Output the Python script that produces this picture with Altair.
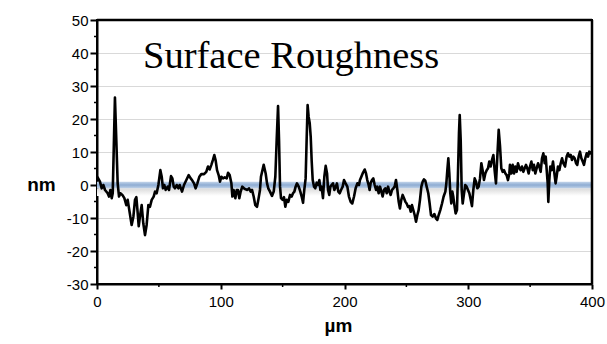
import altair as alt
import pandas as pd

# ---- data ----
x_um = [0, 0.5, 2.4, 3.8, 5.1, 6.5, 8.6, 9.7, 10.8, 11.9, 12.7, 13.7, 14.5, 15.6, 16.7, 17.8, 18.9, 20.5,
        22.1, 23.7, 24.8, 26.1, 28.0, 29.4, 30.7, 31.8, 32.9, 33.7, 34.7, 36.1, 37.4, 38.8, 40.1, 41.5, 42.8,
        44.2, 45.8, 46.9, 48.2, 49.6, 51.2, 52.3, 53.3, 54.4, 55.5, 57.1, 58.2, 59.8, 60.9, 62.0, 63.0, 64.4, 65.7,
        66.8, 68.7, 70.3, 72.2, 74.1, 75.7, 76.8, 78.4, 79.7, 81.1, 82.7, 84.3, 86.5, 88.3, 89.7, 91.0, 92.4,
        93.7, 94.8, 95.9, 97.0, 98.3, 99.4, 100.5, 101.8, 103.2, 104.8, 105.9, 107.2, 108.6, 109.4, 110.4,
        111.8, 112.9, 113.9, 115.0, 116.1, 117.4, 118.8, 120.1, 121.5, 122.8, 124.2, 125.3, 126.6, 127.9,
        129.3, 130.6, 131.7, 132.5,
        134.7, 136.3, 137.4, 138.4, 139.8, 141.4, 142.8, 144.1, 145.2, 146.3, 147.1, 147.9, 148.7, 150.0,
        151.1, 152.2, 153.3, 154.6, 156.0, 157.3, 158.4, 159.5, 160.5, 161.6, 163.0, 164.3, 165.4, 166.5,
        167.5, 168.6, 169.4, 170.2, 171.0, 171.9, 172.7, 173.5, 174.3, 175.4, 176.4, 177.5, 178.6, 179.7,
        180.5, 181.5, 182.6, 183.7, 184.8, 185.9, 186.7, 187.7, 188.6, 189.6, 190.7, 191.8, 192.9, 193.9,
        195.0, 196.1, 197.2, 198.5,
        199.6, 200.9, 202.3, 203.6, 205.0, 206.3, 207.7, 209.0, 210.4, 211.7, 212.5, 213.6, 214.9, 216.3,
        217.4, 218.4, 219.5, 220.3, 221.1, 222.2, 223.3, 224.4, 225.5, 226.5, 227.6, 228.7, 229.8, 230.8,
        231.9, 233.0, 234.1, 235.2, 236.2, 237.3, 238.4, 239.5, 240.5, 241.6, 242.7, 243.8, 244.8, 245.9,
        247.0, 248.1, 249.2, 250.2, 251.3, 252.4, 253.5, 254.5, 255.6, 256.7, 257.8, 258.9, 259.9, 261.0,
        262.1, 263.2, 264.2, 265.3, 266.4,
        267.7, 268.8, 269.9, 271.2, 272.6, 273.9, 275.0, 276.1, 277.4, 278.8, 280.1, 281.5, 282.3, 283.1,
        283.9, 284.7, 285.5, 286.3, 287.1, 287.9, 288.8, 289.8, 290.9, 291.7, 292.5, 293.1, 293.9, 294.7,
        295.5, 296.6, 297.6, 298.7, 299.8, 300.9, 302.0, 303.0, 304.1, 305.2, 306.3, 307.3, 308.4, 309.5,
        310.6, 311.6, 312.7, 313.8, 314.9, 316.0, 317.0, 318.1, 319.2, 320.3, 321.3, 322.4, 323.5, 324.6,
        325.7, 326.7, 327.8, 328.9, 330.0, 331.0, 332.1, 333.2,
        333.7, 334.8, 335.9, 337.0, 338.0, 339.1, 340.2, 341.3, 342.4, 343.4, 344.5, 345.6, 346.7, 347.7,
        348.8, 349.9, 351.0, 352.1, 353.1, 354.2, 355.3, 356.4, 357.4, 358.5, 359.6, 360.7, 361.8, 362.6,
        363.4, 364.2, 364.7, 365.5, 366.3, 367.4, 368.5, 369.6, 370.6, 371.4, 372.5, 373.6, 374.7, 375.8,
        376.8, 378.2, 379.5, 380.6, 381.7, 382.8, 383.8, 384.9, 386.0, 387.1, 388.1, 389.2, 390.3, 391.4,
        392.5, 393.5, 394.6, 395.7, 396.8, 397.8, 398.9, 400.0]

z_nm = [2.0, 2.3, 1.0, -1.0, 0.0, -1.5, -2.5, -3.5, -1.5, -4.0, -2.5, 13.6, 26.5, 13.6, 0.5, -3.5, -2.5, -3.0,
        -4.0, -6.1, -4.5, -7.6, -12.1, -9.6, -4.5, -3.7, -8.6, -12.5, -9.6, -6.1, -11.6, -15.2, -12.1, -6.1, -6.6,
        -4.5, -3.5, -2.0, -2.5, 0.0, 4.5, 2.5, -1.0, 0.0, -1.5, -0.5, -1.5, 2.7, 2.0, -0.5, -1.0, 0.0, -1.0,
        0.0, -2.0, 0.0, 1.5, 3.0, 2.0, 1.5, 0.5, -1.0, 0.5, 2.5, 3.3, 3.3, 4.0, 5.6, 4.7, 6.1,
        7.6, 9.1, 7.4, 4.5, 3.0, 1.0, 2.5, 2.0, 2.3, 2.0, 3.7, 3.0, 0.5, -3.5, -1.5,
        -4.0, -1.5, -1.5, -4.0, -2.0, -0.5, -1.0, -1.3, -1.5, -1.0, -2.0, -1.5, -3.5, -6.1,
        -6.6, -4.0, -1.5, 2.5,
        6.1, 3.5, 0.5, -1.0, -2.0, -3.3, -2.0, 2.5, 13.6, 23.9, 13.6, -0.5, -4.0, -4.5,
        -3.7, -6.6, -4.5, -5.1, -3.0, -3.5, -2.5, -2.0, -0.5, 0.5, -0.5, -2.0, -3.5, -5.4,
        -1.5, 2.0, 13.6, 24.2, 20.7, 18.7, 14.6, 7.1, 1.5, -0.5, -1.0, 0.7, 0.0, 1.5,
        -1.5, -0.5, -4.0, 2.5, 5.8, 3.5, -1.5, -3.0, -0.5, 0.0, 0.5, -1.5, -0.5, 0.5,
        -2.0, -2.5, -1.5, -0.5,
        1.5, 0.5, -0.5, -3.5, -5.1, -5.6, -3.5, -1.0, 0.5, 0.0, 1.5, 2.5, 3.7, 4.7,
        3.5, 1.5, 0.0, -1.5, 0.5, 1.5, 2.0, 0.0, -1.5, -0.5, -2.5, -0.5, -2.0, -3.5,
        -1.5, -1.0, -2.5, -0.5, -2.0, -3.0, -1.5, -1.0, -0.5, 1.5, -1.5, -5.1, -7.1, -4.5,
        -3.0, -4.0, -5.1, -5.6, -6.6, -6.4, -8.1, -6.1, -7.6, -9.1, -11.1, -9.1, -7.6, -4.5,
        -0.5, 1.0, 1.7, 1.3, -0.5,
        -2.5, -5.6, -9.1, -9.6, -8.8, -10.1, -10.6, -9.1, -7.6, -5.6, -3.5, -2.0, 0.5, 4.5,
        8.1, 3.5, -2.5, -5.6, -2.0, -3.5, -6.1, -8.6, -7.6, 3.5, 15.7, 21.2, 13.6, -1.5,
        -5.6, -2.5, 0.0, -0.5, -1.5, -2.5, -4.5, -6.4, -1.5, 2.0, 1.0, -1.0, -0.5, 2.0,
        6.6, 4.5, 1.5, 3.5, 4.5, 5.1, 7.1, 5.6, 7.6, 9.1, 4.5, 0.5, 8.6, 16.7,
        11.6, 5.1, 4.0, 4.5, 3.5, 3.0, 1.5, 3.5,
        6.1, 3.5, 6.1, 3.5, 5.6, 4.0, 6.6, 5.1, 4.5, 5.6, 4.0, 5.1, 6.1, 5.1,
        3.5, 5.6, 7.1, 4.5, 6.1, 3.5, 5.1, 6.6, 5.6, 4.0, 8.1, 9.6, 6.6, 8.6,
        4.5, 0.5, -5.1, 1.5, 5.6, 4.5, 7.1, 3.5, 0.5, 2.5, 5.6, 4.5, 6.6, 8.1,
        6.6, 5.6, 8.6, 9.6, 8.6, 9.1, 7.6, 8.6, 8.1, 6.6, 6.1, 8.6, 10.1, 8.1,
        7.1, 6.1, 8.1, 9.6, 8.6, 10.1, 9.6, 10.1]

x_major = [0, 100, 200, 300, 400]
x_minor = [50, 150, 250, 350]
y_major = [-30, -20, -10, 0, 10, 20, 30, 40, 50]
y_minor = [-25, -15, -5, 5, 15, 25, 35, 45]
x_domain = [0, 400]
y_domain = [-30, 50]
band_limits = [-1.0, 1.0]
shadow_limits = [-3.3, -1.0]
title_text = ["Surface Roughness"]
title_pos = [37.2, 35.6]
x_title = "µm"
y_title = "nm"

profile = pd.DataFrame({"x": x_um, "y": z_nm})
band = pd.DataFrame({"x": [x_domain[0]], "x2": [x_domain[1]], "y": [band_limits[1]], "y2": [band_limits[0]]})
shadow = pd.DataFrame({"x": [x_domain[0]], "x2": [x_domain[1]], "y": [shadow_limits[1]], "y2": [shadow_limits[0]]})
title_df = pd.DataFrame({"x": [title_pos[0]], "y": [title_pos[1]], "t": title_text})
ymin_df = pd.DataFrame({"y": y_minor})
xmin_df = pd.DataFrame({"x": x_minor})
# top and right edges of the frame
top_df = pd.DataFrame({"x": [x_domain[0]], "x2": [x_domain[1]], "y": [y_domain[1]]})
right_df = pd.DataFrame({"x": [x_domain[1]], "y": [y_domain[0]], "y2": [y_domain[1]]})

xscale = alt.Scale(domain=x_domain, nice=False, zero=False)
yscale = alt.Scale(domain=y_domain, nice=False, zero=False)

x_axis = alt.Axis(
    values=x_major, labelExpr="'' + datum.value",
    tickSize=5, grid=False, labelFlush=False, labelOverlap=False,
    labelFont="Liberation Sans", labelFontSize=15, labelColor="black", labelPadding=5,
    domainColor="black", domainWidth=2, tickColor="black", tickWidth=2,
    title=x_title, titleFont="Liberation Sans", titleFontSize=19, titleFontWeight="bold",
    titleColor="black", titleX=241, titleY=41, titleAlign="center", titleBaseline="middle",
)
y_axis = alt.Axis(
    values=y_major, labelExpr="'' + datum.value",
    tickSize=7, grid=True, gridColor="#d9d9d9", gridWidth=1, labelOverlap=False,
    labelFont="Liberation Sans", labelFontSize=15, labelColor="black", labelPadding=2,
    domainColor="black", domainWidth=2, tickColor="black", tickWidth=2,
    title=y_title, titleFont="Liberation Sans", titleFontSize=19, titleFontWeight="bold",
    titleColor="black", titleAngle=0, titleX=-56, titleY=164, titleAlign="center", titleBaseline="middle",
)

X = alt.X("x:Q", scale=xscale, axis=x_axis)
Y = alt.Y("y:Q", scale=yscale, axis=y_axis)

blue_grad = alt.Gradient(
    gradient="linear", x1=0, x2=0, y1=0, y2=1,
    stops=[alt.GradientStop(color="#c3d5ea", offset=0),
           alt.GradientStop(color="#8eacd3", offset=0.5),
           alt.GradientStop(color="#c0d2e8", offset=1)],
)
gray_grad = alt.Gradient(
    gradient="linear", x1=0, x2=0, y1=0, y2=1,
    stops=[alt.GradientStop(color="#dadada", offset=0),
           alt.GradientStop(color="#ffffff", offset=1)],
)

shadow_layer = alt.Chart(shadow).mark_rect(color=gray_grad).encode(x=X, x2="x2:Q", y=Y, y2="y2:Q")
band_layer = alt.Chart(band).mark_rect(color=blue_grad).encode(x=X, x2="x2:Q", y=Y, y2="y2:Q")
ytick_layer = alt.Chart(ymin_df).mark_rule(color="black", strokeWidth=1.5).encode(
    y=Y, x=alt.value(-3), x2=alt.value(0),
)
xtick_layer = alt.Chart(xmin_df).mark_rule(color="black", strokeWidth=1.5).encode(
    x=X, y=alt.value(264), y2=alt.value(267),
)
line_layer = alt.Chart(profile).mark_line(color="black", strokeWidth=2.6, strokeJoin="round").encode(x=X, y=Y)
title_layer = alt.Chart(title_df).mark_text(
    font="Liberation Serif", fontSize=38.5, align="left", baseline="alphabetic", color="black"
).encode(x=X, y=Y, text="t:N")
top_layer = alt.Chart(top_df).mark_rule(color="black", strokeWidth=2.5).encode(x=X, x2="x2:Q", y=Y)
right_layer = alt.Chart(right_df).mark_rule(color="black", strokeWidth=2.5).encode(x=X, y=Y, y2="y2:Q")

chart = alt.layer(shadow_layer, band_layer, ytick_layer, xtick_layer, line_layer, title_layer,
                  top_layer, right_layer).properties(
    width=495, height=264,
    background="white",
    autosize=alt.AutoSizeParams(type="none"),
    padding={"left": 97, "top": 20, "right": 15, "bottom": 60},
).configure_view(stroke="black", strokeWidth=2)

chart.save("out.html", embed_options={"renderer": "svg", "actions": False})
